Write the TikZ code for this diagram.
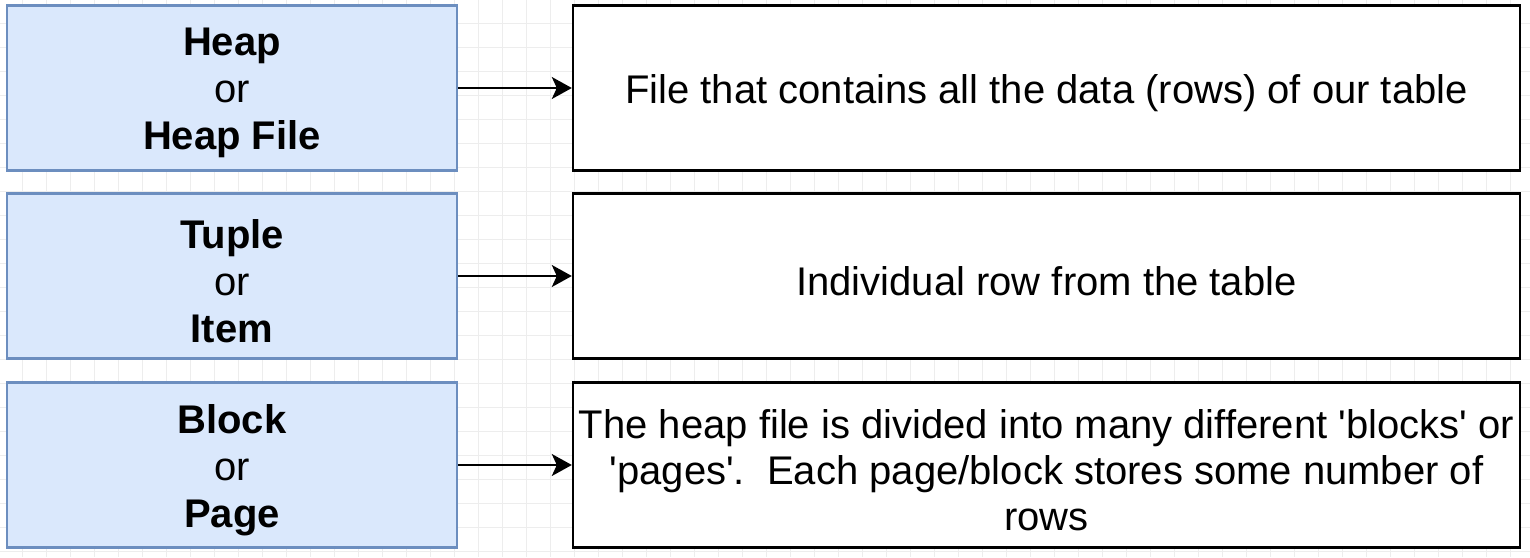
\documentclass[tikz,border=0pt]{standalone}
\usepackage{fontspec}
\setmainfont{Liberation Sans}
\usetikzlibrary{arrows.meta}
\definecolor{bluefill}{HTML}{DAE8FC}
\definecolor{blueline}{HTML}{6C8EBF}
\definecolor{gridc}{HTML}{EDEDED}
\tikzset{
  termbox/.style={draw=blueline, fill=bluefill, line width=1.2pt, minimum width=225pt, minimum height=82.5pt, inner sep=0pt},
  termtext/.style={align=center, font=\fontsize{20}{23.5}\selectfont, inner sep=0pt},
  descbox/.style={draw=black, fill=white, line width=1.2pt, minimum width=473.5pt, minimum height=82.5pt, inner sep=0pt},
  desctext/.style={align=center, font=\fontsize{20}{23}\selectfont, inner sep=0pt},
  link/.style={-{Stealth[length=10pt,width=11pt,inset=2.5pt]}, line width=1pt}
}
\begin{document}
\begin{tikzpicture}[x=0.5pt,y=-0.5pt]
\useasboundingbox (0,0) rectangle (1530,557);
\fill[white] (0,0) rectangle (1530,557);
\foreach \gx in {22,46,...,1530} \draw[gridc, line width=0.4pt] (\gx,0) -- (\gx,557);
\foreach \gy in {23,47,...,557} \draw[gridc, line width=0.4pt] (0,\gy) -- (1530,\gy);
\node[termbox] (heap) at (232,88) {};
\node[termbox] (tuple) at (232,276) {};
\node[termbox] (block) at (232,465) {};
\node[termtext] (heapt) at ([yshift=-2.5pt]heap.center) {\textbf{Heap}\\or\\\textbf{Heap File}};
\node[termtext] (tuplet) at ([yshift=-2.5pt]tuple.center) {\textbf{Tuple}\\or\\\textbf{Item}};
\node[termtext] (blockt) at ([yshift=-2.5pt]block.center) {\textbf{Block}\\or\\\textbf{Page}};
\node[descbox] (d1) at (1046.5,88) {};
\node[descbox] (d2) at (1046.5,276) {};
\node[descbox] (d3) at (1046.5,465) {};
\node[desctext] (d1t) at ([yshift=-2.5pt]d1.center) {File that contains all the data (rows) of our table};
\node[desctext] (d2t) at ([yshift=-2.5pt]d2.center) {Individual row from the table};
\node[desctext] (d3t) at ([yshift=-2.5pt]d3.center) {The heap file is divided into many different \textquotesingle blocks\textquotesingle\ or\\\textquotesingle pages\textquotesingle.\ \ Each page/block stores some number of\\rows};
\draw[link] (heap.east) -- (d1.west);
\draw[link] (tuple.east) -- (d2.west);
\draw[link] (block.east) -- (d3.west);
\end{tikzpicture}
\end{document}
